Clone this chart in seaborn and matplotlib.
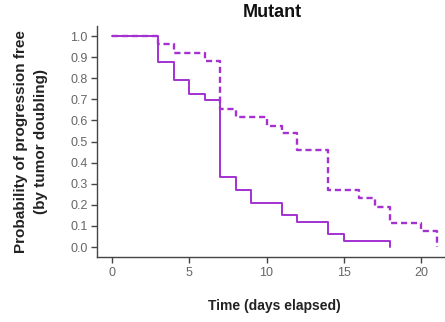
import matplotlib
matplotlib.use("Agg")
import matplotlib.pyplot as plt
import seaborn as sns
import pandas as pd

# ── Kaplan-Meier style step data ─────────────────────────────────────────
solid_days  = [0, 3, 4, 5, 6, 7, 8, 9, 11, 12, 14, 15, 18]
solid_prob  = [1.0, 0.875, 0.79, 0.725, 0.695, 0.333, 0.27, 0.21, 0.15, 0.12, 0.06, 0.03, 0.0]
dashed_days = [0, 3, 4, 6, 7, 8, 10, 11, 12, 14, 16, 17, 18, 20, 21]
dashed_prob = [1.0, 0.96, 0.92, 0.88, 0.655, 0.615, 0.575, 0.54, 0.46, 0.27, 0.23, 0.19, 0.115, 0.075, 0.0]

x_ticks = [0, 5, 10, 15, 20]
y_ticks = [0.0, 0.1, 0.2, 0.3, 0.4, 0.5, 0.6, 0.7, 0.8, 0.9, 1.0]

sns.set_theme(style="white")
plt.rcParams["font.family"] = ["Liberation Sans", "DejaVu Sans"]

PURPLE = "#a431d0"

df_solid  = pd.DataFrame({"day": solid_days, "prob": solid_prob})
df_dashed = pd.DataFrame({"day": dashed_days, "prob": dashed_prob})

fig = plt.figure(figsize=(4.45, 3.22), dpi=100)
ax = fig.add_axes([0.219, 0.202, 0.781, 0.717])

sns.lineplot(data=df_solid, x="day", y="prob", ax=ax, estimator=None, sort=False,
             drawstyle="steps-post", color=PURPLE, lw=1.4)
sns.lineplot(data=df_dashed, x="day", y="prob", ax=ax, estimator=None, sort=False,
             drawstyle="steps-post", color=PURPLE, lw=1.7, dashes=False,
             linestyle=(0, (2.6, 1.6)))

ax.set_xlim(-0.94, 21.55)
ax.set_ylim(-0.047, 1.047)
ax.set_xticks(x_ticks)
ax.set_yticks(y_ticks)
ax.set_xticklabels([str(t) for t in x_ticks])
ax.set_yticklabels([f"{t:.1f}" for t in y_ticks])
ax.tick_params(axis="both", direction="out", length=4, width=1, color="#444444",
               labelcolor="#666666", labelsize=9, bottom=True, left=True, pad=3)
ax.set_xlabel("")
ax.set_ylabel("")
sns.despine(ax=ax)
for s in ["left", "bottom"]:
    ax.spines[s].set_color("#444444")
    ax.spines[s].set_linewidth(1)

fig.text(0.613, 0.96, "Mutant", ha="center", va="center",
         fontsize=13, fontweight="bold", color="#111111")
fig.text(0.617, 0.05, "Time (days elapsed)", ha="center", va="center",
         fontsize=10, fontweight="bold", color="#222222")
fig.text(0.07, 0.56, "Probability of progression free\n(by tumor doubling)",
         ha="center", va="center", rotation=90, fontsize=11, fontweight="bold",
         color="#222222", linespacing=1.6)

fig.savefig("out.png", dpi=100)
